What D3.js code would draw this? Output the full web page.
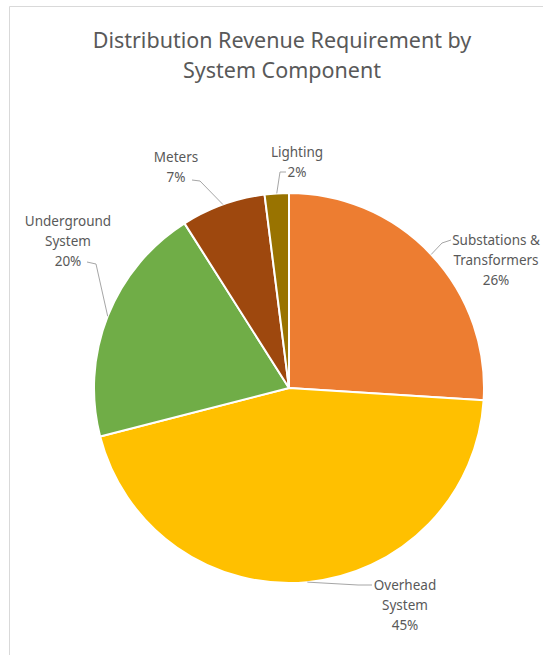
<!DOCTYPE html>
<html>
<head>
<meta charset="utf-8">
<script src="https://cdn.jsdelivr.net/npm/d3@7/dist/d3.min.js"></script>
<style>
  html, body { margin: 0; padding: 0; background: #fff; overflow: hidden; }
  svg { display: block; }
  text { font-family: "Noto Sans", "Open Sans", sans-serif; fill: #595959; }
</style>
</head>
<body>
<svg id="chart" width="543" height="655"></svg>
<script>
// Revenue requirement shares by system component (percent)
const categories = ["Substations & Transformers", "Overhead System", "Underground System", "Meters", "Lighting"];
const values = [26, 45, 20, 7, 2];
const labelLines = [
  ["Substations &", "Transformers", "26%"],
  ["Overhead", "System", "45%"],
  ["Underground", "System", "20%"],
  ["Meters", "7%"],
  ["Lighting", "2%"]
];
const colors = ["#ED7D31", "#FFC000", "#70AD47", "#9E480E", "#997300"];
const titleLines = ["Distribution Revenue Requirement by", "System Component"];

const W = 543, H = 655;
const cx = 289, cy = 388, R = 195;

const svg = d3.select("#chart");

// chart-area frame
svg.append("path")
  .attr("d", `M9.5,${H} V6.5 H${W}`)
  .attr("fill", "none")
  .attr("stroke", "#d9d9d9")
  .attr("stroke-width", 1);

// title
svg.append("g").selectAll("text")
  .data(titleLines)
  .join("text")
  .attr("x", 282)
  .attr("y", (d, i) => 48 + i * 30)
  .attr("text-anchor", "middle")
  .attr("font-size", 21.5)
  .text(d => d);

const pie = d3.pie().sort(null).value(d => d);
const arcs = pie(values);
const arc = d3.arc().innerRadius(0).outerRadius(R);

const g = svg.append("g").attr("transform", `translate(${cx},${cy})`);
g.selectAll("path")
  .data(arcs)
  .join("path")
  .attr("d", arc)
  .attr("fill", (d, i) => colors[i])
  .attr("stroke", "#fff")
  .attr("stroke-width", 2)
  .attr("stroke-linejoin", "round");

// data-label placement: centre x, first baseline y, leader start and elbow
const labelLayout = [
  { x: 496, y: 245, anchor: [451, 240], elbow: [442, 243] },
  { x: 405, y: 590, anchor: [372, 585], elbow: [358, 585] },
  { x: 68,  y: 226, anchor: [87, 262],  elbow: [96, 264] },
  { x: 176, y: 162, anchor: [192, 180], elbow: [200, 181] },
  { x: 297, y: 157, anchor: [286, 172], elbow: [280, 172] }
];

const lineH = 20;
const labels = svg.append("g");
arcs.forEach((a, i) => {
  const L = labelLayout[i];
  const mid = (a.startAngle + a.endAngle) / 2;
  const ex = cx + R * Math.sin(mid);
  const ey = cy - R * Math.cos(mid);
  labels.append("polyline")
    .attr("points", [L.anchor, L.elbow, [ex, ey]].map(p => p.join(",")).join(" "))
    .attr("fill", "none")
    .attr("stroke", "#a6a6a6")
    .attr("stroke-width", 1);
  labels.append("g").selectAll("text")
    .data(labelLines[i])
    .join("text")
    .attr("x", L.x)
    .attr("y", (d, k) => L.y + k * lineH)
    .attr("text-anchor", "middle")
    .attr("font-size", 13.5)
    .text(d => d);
});
</script>
</body>
</html>
